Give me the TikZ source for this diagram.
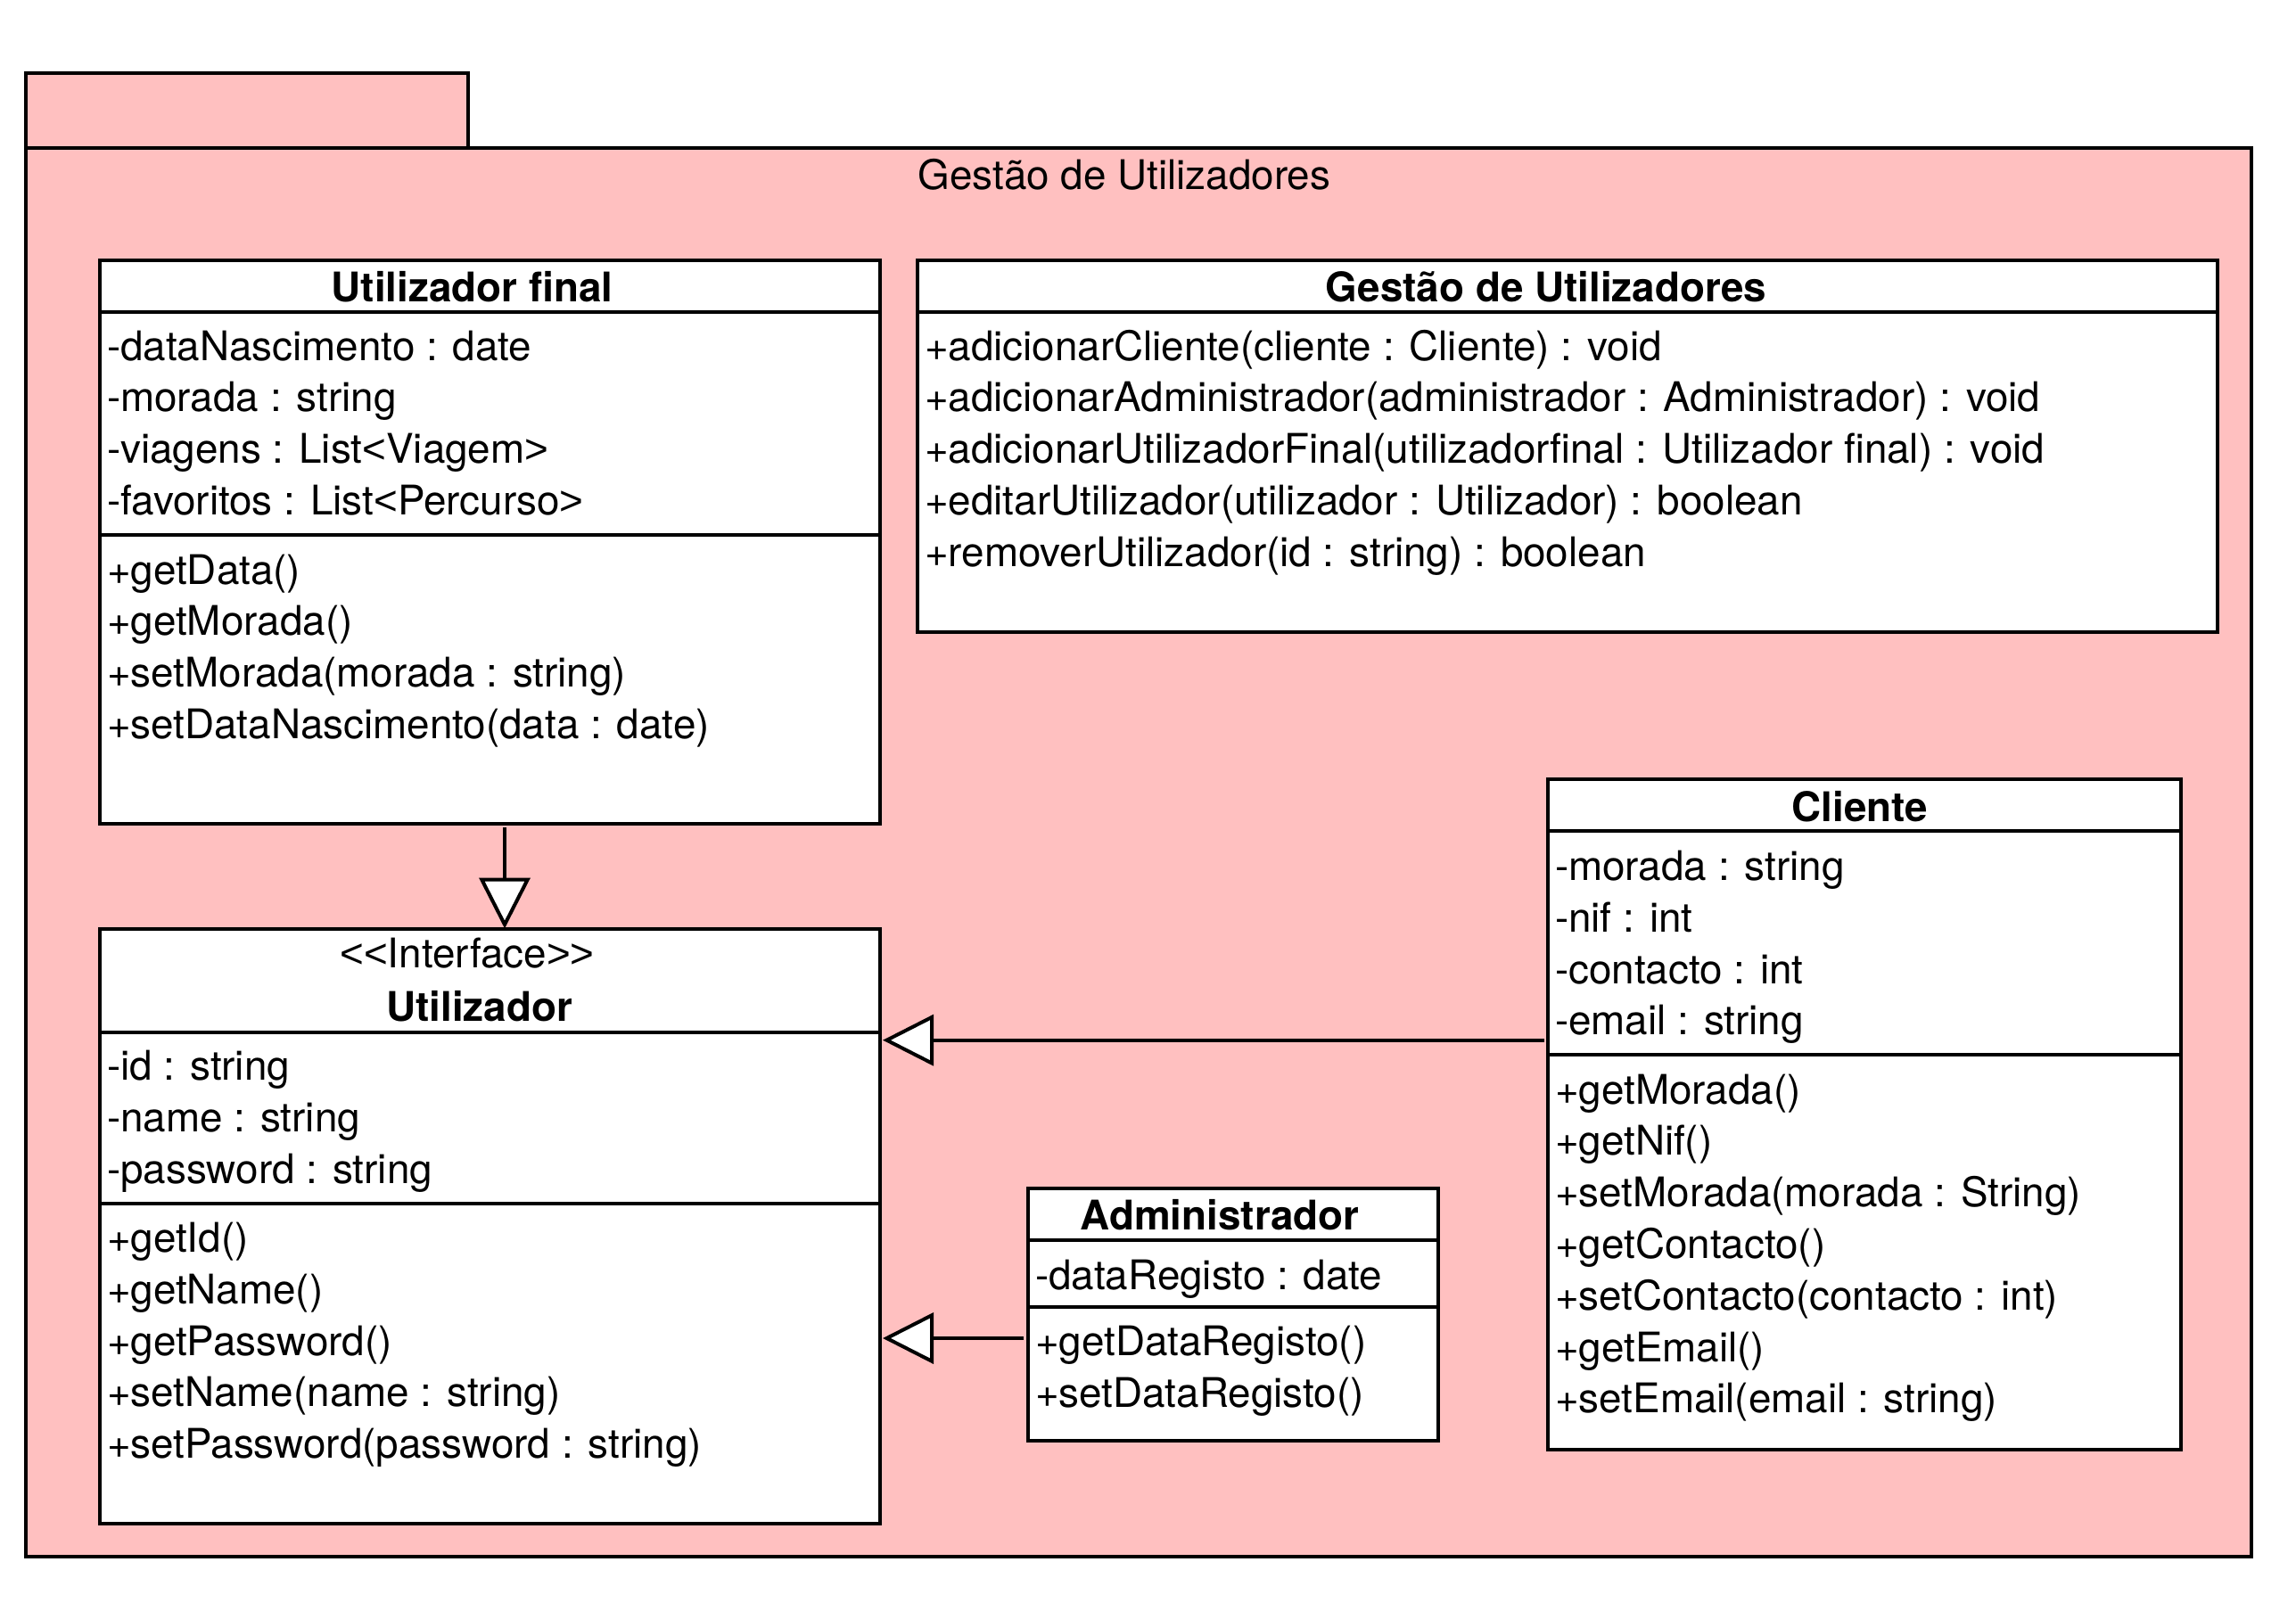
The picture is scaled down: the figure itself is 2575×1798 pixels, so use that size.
\documentclass[tikz,border=0pt]{standalone}
\usepackage{fontspec}
\setmainfont{TeX Gyre Heros}
\newfontfamily\brfont{Liberation Sans}
\newcommand{\lta}{{\brfont<}}
\newcommand{\gta}{{\brfont>}}
\usetikzlibrary{arrows.meta}
\definecolor{pkgpink}{RGB}{255,192,192}
\tikzset{
  pkgbox/.style={draw=black, fill=pkgpink, line width=4pt, rectangle, inner sep=0pt, outer sep=0pt, anchor=north west},
  classbox/.style={draw=black, fill=white, line width=4pt, rectangle, inner sep=0pt, outer sep=0pt, anchor=north west},
  sepline/.style={line width=4pt},
  row/.style={anchor=base west, inner sep=0pt, outer sep=0pt, font=\fontsize{45.8}{55}\selectfont},
  ctitle/.style={anchor=base, inner sep=0pt, outer sep=0pt, font=\fontsize{45.8}{55}\selectfont\bfseries},
  plaintitle/.style={anchor=base, inner sep=0pt, outer sep=0pt, font=\fontsize{45.8}{55}\selectfont},
  gen/.style={line width=4pt, -{Triangle[length=57pt,width=57pt,fill=white]}, shorten <=4pt},
}
\begin{document}
\begin{tikzpicture}[x=1pt,y=-1pt]
\useasboundingbox (0,0) rectangle (2575,1798);

% package
\node[pkgbox, minimum width=496pt, minimum height=84.5pt] (tab) at (29,82) {};
\node[pkgbox, minimum width=2496pt, minimum height=1579.5pt] (pkg) at (29,166.5) {};
\node[plaintitle] (pkgtitle) at (1261,212.5) {Gestão de Utilizadores};

% Utilizador final
\node[classbox, minimum width=875pt, minimum height=632pt] (uf) at (112,292) {};
\draw[sepline] (uf.west |- 0,350) -- (uf.east |- 0,350);
\draw[sepline] (uf.west |- 0,599.5) -- (uf.east |- 0,599.5);
\node[ctitle] (uft) at (529.5,338) {Utilizador final};
\node[row] (ufa1) at (120,404) {-dataNascimento : date};
\node[row] (ufa2) at (120,461.8) {-morada : string};
\node[row] (ufa3) at (120,519.6) {-viagens : List\lta Viagem\gta};
\node[row] (ufa4) at (120,577.4) {-favoritos : List\lta Percurso\gta};
\node[row] (ufm1) at (120,655) {+getData()};
\node[row] (ufm2) at (120,712.8) {+getMorada()};
\node[row] (ufm3) at (120,770.6) {+setMorada(morada : string)};
\node[row] (ufm4) at (120,828.4) {+setDataNascimento(data : date)};

% Gestao de Utilizadores class
\node[classbox, minimum width=1458pt, minimum height=417pt] (gu) at (1029,292) {};
\draw[sepline] (gu.west |- 0,350) -- (gu.east |- 0,350);
\node[ctitle] (gut) at (1734,338) {Gestão de Utilizadores};
\node[row] (gum1) at (1037,404) {+adicionarCliente(cliente : Cliente) : void};
\node[row] (gum2) at (1037,461.8) {+adicionarAdministrador(administrador : Administrador) : void};
\node[row] (gum3) at (1037,519.6) {+adicionarUtilizadorFinal(utilizadorfinal : Utilizador final) : void};
\node[row] (gum4) at (1037,577.4) {+editarUtilizador(utilizador : Utilizador) : boolean};
\node[row] (gum5) at (1037,635.2) {+removerUtilizador(id : string) : boolean};

% Utilizador interface
\node[classbox, minimum width=875pt, minimum height=667.5pt] (ut) at (112,1041.5) {};
\draw[sepline] (ut.west |- 0,1157.5) -- (ut.east |- 0,1157.5);
\draw[sepline] (ut.west |- 0,1350) -- (ut.east |- 0,1350);
\node[plaintitle] (uts) at (524,1085) {\lta\lta Interface\gta\gta};
\node[ctitle] (utt) at (537.6,1145.5) {Utilizador};
\node[row] (uta1) at (120,1211.7) {-id : string};
\node[row] (uta2) at (120,1269.5) {-name : string};
\node[row] (uta3) at (120,1327.3) {-password : string};
\node[row] (utm1) at (120,1404.5) {+getId()};
\node[row] (utm2) at (120,1462.3) {+getName()};
\node[row] (utm3) at (120,1520.1) {+getPassword()};
\node[row] (utm4) at (120,1577.9) {+setName(name : string)};
\node[row] (utm5) at (120,1635.7) {+setPassword(password : string)};

% Administrador
\node[classbox, minimum width=459.2pt, minimum height=282.7pt] (ad) at (1153.3,1333.3) {};
\draw[sepline] (ad.west |- 0,1390.7) -- (ad.east |- 0,1390.7);
\draw[sepline] (ad.west |- 0,1465.7) -- (ad.east |- 0,1465.7);
\node[ctitle] (adt) at (1368,1379) {Administrador};
\node[row] (ada1) at (1161,1446) {-dataRegisto : date};
\node[row] (adm1) at (1161,1520.5) {+getDataRegisto()};
\node[row] (adm2) at (1161,1578.5) {+setDataRegisto()};

% Cliente
\node[classbox, minimum width=710pt, minimum height=752pt] (cl) at (1736,874) {};
\draw[sepline] (cl.west |- 0,931.7) -- (cl.east |- 0,931.7);
\draw[sepline] (cl.west |- 0,1182.7) -- (cl.east |- 0,1182.7);
\node[ctitle] (clt) at (2086,921) {Cliente};
\node[row] (cla1) at (1744,987.5) {-morada : string};
\node[row] (cla2) at (1744,1045.3) {-nif : int};
\node[row] (cla3) at (1744,1103.1) {-contacto : int};
\node[row] (cla4) at (1744,1160.9) {-email : string};
\node[row] (clm1) at (1744,1238) {+getMorada()};
\node[row] (clm2) at (1744,1295.8) {+getNif()};
\node[row] (clm3) at (1744,1353.6) {+setMorada(morada : String)};
\node[row] (clm4) at (1744,1411.4) {+getContacto()};
\node[row] (clm5) at (1744,1469.2) {+setContacto(contacto : int)};
\node[row] (clm6) at (1744,1527) {+getEmail()};
\node[row] (clm7) at (1744,1584.8) {+setEmail(email : string)};

% generalisations
\coordinate (x1) at (566,0);
\coordinate (y1) at (0,1166.7);
\coordinate (y2) at (0,1501);
\draw[gen] (uf.south -| x1) -- (ut.north -| x1);
\draw[gen, shorten >=3pt] (cl.west |- y1) -- (ut.east |- y1);
\draw[gen, shorten >=3pt, shorten <=5pt] (ad.west |- y2) -- (ut.east |- y2);
\end{tikzpicture}
\end{document}
